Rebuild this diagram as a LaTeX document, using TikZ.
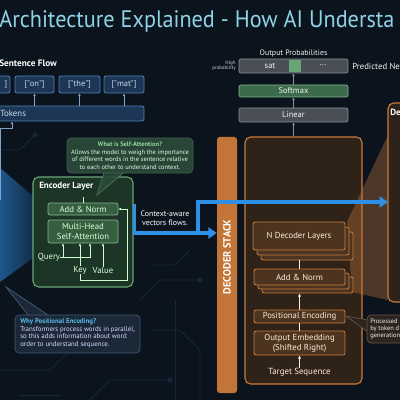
\documentclass[tikz,border=0pt]{standalone}
\usepackage{fontspec}
\usepackage{graphicx}
\setmainfont{PT Sans}
\usetikzlibrary{arrows.meta}

\definecolor{bgnavy}{HTML}{0B131D}
\definecolor{circuit}{HTML}{14283A}
\definecolor{titlecyan}{HTML}{8FD3E6}
\definecolor{tokfill}{HTML}{1E3655}
\definecolor{tokdraw}{HTML}{4D7DB5}
\definecolor{toktext}{HTML}{C8D8EA}
\definecolor{encfill}{HTML}{1C3526}
\definecolor{encdraw}{HTML}{6AA575}
\definecolor{encbox}{HTML}{365F40}
\definecolor{callgreen}{HTML}{2B4A3A}
\definecolor{callgreentitle}{HTML}{8FD99A}
\definecolor{flowblue}{HTML}{2D8FE6}
\definecolor{decfill}{HTML}{2E2219}
\definecolor{decdraw}{HTML}{C97B3D}
\definecolor{stackbar}{HTML}{C27536}
\definecolor{grayfill}{HTML}{4A4E55}
\definecolor{graydraw}{HTML}{8B9099}
\definecolor{softfill}{HTML}{3B6B4A}
\definecolor{whyfill}{HTML}{1A2838}
\definecolor{whydraw}{HTML}{3F5A75}
\definecolor{whytitle}{HTML}{5CB6EA}
\definecolor{procfill}{HTML}{2B2420}
\definecolor{procdraw}{HTML}{6E5444}

\def\px{0.025cm}
\newcommand{\pxfont}[1]{\fontsize{#1}{#1}\selectfont}

\tikzset{
  box/.style={rounded corners=1.5pt, minimum width=#1*\px, inner sep=0pt},
  tokbox/.style={box=#1, fill=tokfill, draw=tokdraw, line width=0.6pt, minimum height=17*\px, text=toktext, font=\pxfont{6}},
  encsub/.style={box=70, fill=encbox, draw=encdraw!80!white, line width=0.5pt, text=white!85!green, font=\fontsize{6.2}{7}\selectfont, align=center},
  decsub/.style={box=91, fill=decfill!80!decdraw, draw=decdraw, line width=0.6pt, text=white!85!orange, font=\fontsize{6.2}{7}\selectfont, align=center},
  topbox/.style={box=109, fill=grayfill, draw=graydraw, line width=0.5pt, text=white!90!gray, font=\pxfont{6}},
  lbl/.style={inner sep=0pt, text=white!90!gray},
  tokarrow/.style={draw=tokdraw!70!white, line width=0.6pt, -{Latex[length=2pt,width=2pt]}},
  encarrow/.style={draw=white!80!green, line width=0.6pt, -{Latex[length=2pt,width=2pt]}},
  decarrow/.style={draw=white!85!orange, line width=0.6pt, -{Latex[length=2.2pt,width=2.2pt]}},
  grayarrow/.style={draw=graydraw, line width=0.6pt, -{Latex[length=2pt,width=2pt]}},
  flow/.style={draw=flowblue, line width=2.2pt, -{Triangle[length=6pt,width=8pt]}},
}

\begin{document}
\begin{tikzpicture}[x=0.025cm, y=-0.025cm]
\useasboundingbox (0,0) rectangle (400,400);
\clip (0,0) rectangle (400,400);
\fill[bgnavy] (0,0) rectangle (400,400);

% faint circuit traces
\begin{scope}[draw=circuit, line width=0.6pt]
  \draw (0,150) -- (20,150) -- (35,135);
  \draw (150,265) -- (175,265) -- (190,250);
  \draw (140,300) -- (160,280) -- (200,280);
  \draw (150,330) -- (180,330) -- (200,350) -- (200,400);
  \draw (0,370) -- (50,370) -- (70,350) -- (120,350);
  \draw (90,400) -- (110,380) -- (170,380);
  \draw (175,300) -- (175,400);
  \draw (20,395) -- (60,395);
  \fill[circuit] (200,280) circle (2.5) (120,350) circle (2.5) (170,380) circle (2.5) (35,135) circle (2.5);
\end{scope}

% title
\node[anchor=west, inner sep=0pt, text=titlecyan, font=\pxfont{17}] (title) at (-1,21)
  {\scalebox{0.93}[1]{Architecture Explained - How AI Understa}};

% sentence flow
\node[lbl, anchor=west, text=white, font=\bfseries\pxfont{6.6}] (flowtitle) at (-1,63) {Sentence Flow};
\node[tokbox=30] (tokcat) at (-5,84.5) {};
\node[lbl, anchor=east, text=toktext, font=\pxfont{6}] at ([xshift=-3*\px]tokcat.east) {]};
\node[tokbox=39] (tokon) at (34.5,84.5) {[\textquotedbl on\textquotedbl]};
\node[tokbox=41] (tokthe) at (79.5,84.5) {[\textquotedbl the\textquotedbl]};
\node[tokbox=40] (tokmat) at (124,84.5) {[\textquotedbl mat\textquotedbl]};
\node[tokbox=154, minimum height=15*\px] (tokbar) at (67,113.5) {};
\node[lbl, anchor=west, text=toktext, font=\pxfont{6.3}] at (0,113.5) {Tokens};
\foreach \t in {tokon,tokthe,tokmat}
  \draw[tokarrow] (\t.south |- tokbar.north) -- (\t.south);

% projection onto the encoder layer
\shade[left color=flowblue!55!bgnavy, right color=flowblue!22!bgnavy] (0,168) -- (33,196) -- (33,258) -- (0,282) -- cycle;
\coordinate (tokin) at (0.8,200);
\coordinate (tokfoot) at (12,128);
\draw[tokarrow] (tokin) |- (tokfoot) -- (tokfoot |- tokbar.south);

% encoder layer
\node[draw=encdraw, fill=encfill, line width=0.8pt, rounded corners=4pt, minimum width=100*\px, minimum height=110*\px] (encoder) at (83,232) {};
\node[lbl, anchor=west, text=white, font=\bfseries\pxfont{6.4}] (enctitle) at (39,186) {Encoder Layer};
\node[encsub, minimum height=12*\px] (addnorm) at (83,209) {Add \& Norm};
\node[encsub, minimum height=23*\px] (mha) at (83,231.5) {Multi-Head\\Self-Attention};
\draw[draw=white!80!green, line width=0.6pt] (addnorm.north) -- ++(0,-6);
\node[lbl, text=white!85!green, font=\pxfont{6.2}] (query) at (49,257.5) {Query};
\node[lbl, text=white!85!green, font=\pxfont{6.2}] (key) at (80,270) {Key};
\node[lbl, text=white!85!green, font=\pxfont{6.2}] (value) at (103,270) {Value};
\draw[encarrow] (query.east) -| ([xshift=-0.5cm]mha.south);
\draw[encarrow] (query.east) -| ([xshift=0.175cm]mha.south);
\draw[encarrow] (key.north) -- (key |- mha.south);
\draw[encarrow] (value.north) -- (value |- mha.south);
\coordinate (resid) at (127,280);
\draw[encarrow] (key.south) |- (resid) |- (addnorm.east);

% self-attention callout
\fill[callgreen, opacity=0.9] (104,172) -- (97,195) -- (124,172) -- cycle;
\draw[encdraw!70!black, line width=0.5pt] (104,172.5) -- (97,195) -- (124,172.5);
\node[fill=callgreen, fill opacity=0.92, text opacity=1, draw=encdraw!60!black, line width=0.5pt, rounded corners=3pt,
      minimum width=126*\px, minimum height=35*\px, inner sep=0pt, align=center, text=white!88!green,
      font=\fontsize{4.6}{5.2}\selectfont] (satip) at (130,155.5)
  {{\bfseries\color{callgreentitle}What is Self-Attention?}\\[0.6pt]
   Allows the model to weigh the importance\\
   of different words in the sentence relative\\
   to each other to understand context.};

% positional encoding callout
\fill[whyfill] (6,287) -- (28,315) -- (48,315) -- cycle;
\draw[whydraw, line width=0.5pt] (28,315) -- (6,287) -- (48,315);
\node[fill=whyfill, draw=whydraw, line width=0.5pt, rounded corners=3pt, minimum width=125*\px, minimum height=38*\px,
      inner sep=0pt] (whypos) at (77.5,334) {};
\node[lbl, anchor=north west, align=left, text=white!85!blue, font=\fontsize{4.9}{5.4}\selectfont] (whytext) at (20,318.5)
  {{\bfseries\color{whytitle}Why Positional Encoding?}\\
   Transformers process words in parallel,\\
   so this adds information about word\\
   order to understand sequence.};

% decoder stack
\node[fill=stackbar, rounded corners=2pt, minimum width=20*\px, minimum height=256*\px, inner sep=0pt] (decstack) at (227,265) {};
\node[lbl, rotate=90, text=white, font=\bfseries\pxfont{7.4}] at (227,257) {DECODER STACK};
\node[fill=decfill, draw=decdraw, line width=0.8pt, rounded corners=4pt, minimum width=117*\px, minimum height=247*\px] (decoder) at (303.5,260.5) {};

% zoom-out towards the decoder detail
\fill[decdraw, opacity=0.35] (347,222) -- (388,135) -- (388,300) -- (352,292) -- cycle;
\node[fill=decfill, draw=decdraw, line width=0.8pt, rounded corners=4pt, minimum width=40*\px, minimum height=199*\px] (decdetail) at (408,202.5) {};
\node[lbl, anchor=west, text=white, font=\bfseries\pxfont{6.4}] at (390,112) {De};

\node[decsub, box=92, minimum height=28*\px] (ndl3) at (307,246) {};
\node[decsub, box=92, minimum height=28*\px] (ndl2) at (303,241) {};
\node[decsub, box=92, minimum height=28*\px] (ndl) at (299,236) {N Decoder Layers};
\node[decsub, minimum height=16*\px] (dan3) at (307.5,285) {};
\node[decsub, minimum height=16*\px] (dan2) at (303.5,281) {};
\node[decsub, minimum height=16*\px] (dan) at (299.5,277) {Add \& Norm};
\node[decsub, minimum height=13*\px] (posenc) at (299.5,316.5) {Positional Encoding};
\node[decsub, minimum height=24*\px] (outemb) at (299.5,343) {Output Embedding\\(Shifted Right)};
\node[lbl, text=white!85!orange, font=\pxfont{6.3}] (target) at (299.5,372.5) {Target Sequence};
\draw[draw=white!85!orange, line width=0.6pt] (dan.north) -- (dan.north |- ndl3.south);
\draw[decarrow] (posenc.north) -- (posenc.north |- dan3.south);
\draw[draw=white!85!orange, line width=0.6pt] (outemb.north) -- (posenc.south);
\draw[decarrow] (target.north) -- (outemb.south);

% processed callout
\fill[procfill] (346,316) -- (368,320) -- (368,332) -- cycle;
\draw[procdraw, line width=0.5pt] (368,320) -- (346,316) -- (368,332);
\node[fill=procfill, draw=procdraw, line width=0.5pt, rounded corners=3pt, minimum width=60*\px, minimum height=28*\px] (proc) at (397,329) {};
\node[lbl, anchor=north west, align=left, text=white!85!orange, font=\fontsize{4.6}{5.2}\selectfont] at (370,318.5)
  {Processed\\by token d\\generation};

% output head
\node[topbox, minimum height=14*\px] (linear) at (293.5,115) {Linear};
\node[topbox, fill=softfill, draw=encdraw!80!white, minimum height=12*\px] (softmax) at (293.5,91) {Softmax};
\node[topbox, minimum height=14*\px] (probbar) at (293.5,66) {};
\fill[encdraw] (289,60) rectangle (301,72);
\node[lbl, font=\pxfont{6}] at (270,66) {sat};
\node[lbl, font=\pxfont{6}] at (323,65) {...};
\node[lbl, font=\pxfont{5.6}] (outprob) at (293.5,53) {Output Probabilities};
\node[lbl, anchor=east, align=right, text=white!65!gray, font=\fontsize{3.6}{3.8}\selectfont] at (236,66) {High\\probability};
\node[lbl, anchor=west, font=\pxfont{6.2}] at (352,66.5) {Predicted Ne};
\draw[grayarrow] (linear.south |- decoder.north) -- (linear.south);
\draw[grayarrow] (linear.north) -- (softmax.south);
\draw[grayarrow] (softmax.north) -- (probbar.south);

% context flow from encoder to decoder
\node[lbl, align=center, text=white, font=\fontsize{5.6}{6.4}\selectfont] (ctx) at (165,218.5) {Context-aware\\vectors flows.};
\coordinate (encout) at (134.5,204);
\coordinate (ctxsplit) at (198,233);
\coordinate (flowend) at (388,202);
\draw[flow] (encout) |- (decstack.west |- ctxsplit);
\draw[flow] (ctxsplit) |- (flowend);
\end{tikzpicture}
\end{document}
